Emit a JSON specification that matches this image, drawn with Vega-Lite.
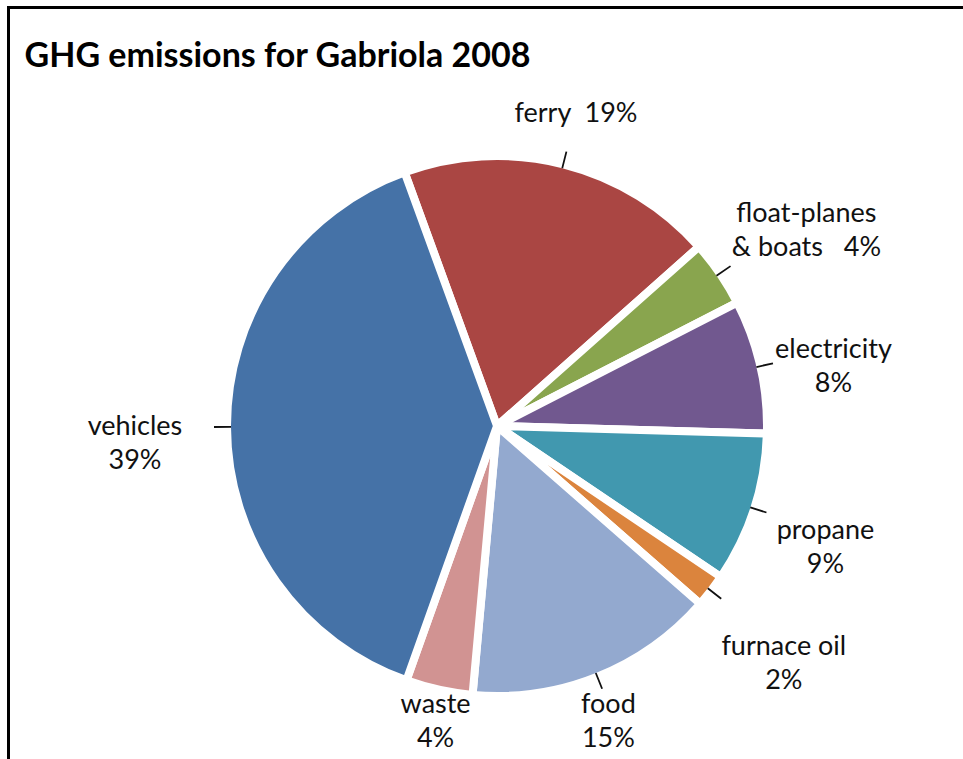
{
  "$schema": "https://vega.github.io/schema/vega-lite/v6.json",
  "width": 977,
  "height": 837,
  "autosize": {"type": "none"},
  "padding": {"left": 8.5, "top": 7.5, "right": -22.5, "bottom": -85.5},
  "background": "white",
  "view": {"stroke": "#000000", "strokeWidth": 3, "fill": "white"},
  "title": {
    "text": "GHG emissions for Gabriola 2008",
    "anchor": "start",
    "orient": "top",
    "frame": "group",
    "font": "Lato",
    "fontSize": 34,
    "fontWeight": "bold",
    "color": "#000000",
    "baseline": "alphabetic",
    "offset": -59.5,
    "dx": 16,
    "dy": 34
  },
  "data": {
    "values": [
      {"rank": 1, "category": "ferry", "pct": 19, "label": "ferry\u00a0\u00a019%"},
      {"rank": 2, "category": "float-planes & boats", "pct": 4, "label": "float-planes\n& boats\u00a0\u00a0\u00a04%"},
      {"rank": 3, "category": "electricity", "pct": 8, "label": "electricity\n8%"},
      {"rank": 4, "category": "propane", "pct": 9, "label": "propane\n9%"},
      {"rank": 5, "category": "furnace oil", "pct": 2, "label": "furnace oil\n2%"},
      {"rank": 6, "category": "food", "pct": 15, "label": "food\n15%"},
      {"rank": 7, "category": "waste", "pct": 4, "label": "waste\n4%"},
      {"rank": 8, "category": "vehicles", "pct": 39, "label": "vehicles\n39%"}
    ]
  },
  "encoding": {
    "theta": {"field": "pct", "type": "quantitative", "stack": true, "scale": {"range": [-0.349, 5.934]}},
    "order": {"field": "rank", "type": "quantitative"}
  },
  "layer": [
    {
      "mark": {"type": "arc", "outerRadius": 270, "stroke": "#ffffff", "strokeWidth": 8},
      "encoding": {
        "color": {
          "field": "category",
          "type": "nominal",
          "legend": null,
          "scale": {
            "domain": ["ferry", "float-planes & boats", "electricity", "propane", "furnace oil", "food", "waste", "vehicles"],
            "range": ["#AA4643", "#89A54E", "#71588F", "#4198AF", "#DB843D", "#93A9CF", "#D19392", "#4572A7"]
          }
        }
      }
    },
    {
      "mark": {"type": "arc", "filled": false, "color": "#111111", "stroke": "#111111", "strokeWidth": 1.8, "padAngle": 3, "innerRadius": 266, "outerRadius": 283},
      "encoding": {
        "strokeOpacity": {"condition": {"test": "datum.category === 'waste'", "value": 0}, "value": 1}
      }
    },
    {
      "mark": {"type": "text", "radius": 345, "font": "Lato", "fontSize": 27, "lineHeight": 34, "lineBreak": "\n", "align": "center", "baseline": "middle", "color": "#111111"},
      "encoding": {
        "text": {"field": "label", "type": "nominal", "condition": {"test": "indexof(['propane','electricity'], datum.category) < 0", "value": ""}}
      }
    },
    {
      "mark": {"type": "text", "radius": 362, "font": "Lato", "fontSize": 27, "lineHeight": 34, "lineBreak": "\n", "align": "center", "baseline": "middle", "color": "#111111"},
      "encoding": {
        "text": {"field": "label", "type": "nominal", "condition": {"test": "indexof(['vehicles','furnace oil'], datum.category) < 0", "value": ""}}
      }
    },
    {
      "mark": {"type": "text", "radius": 375, "font": "Lato", "fontSize": 27, "lineHeight": 34, "lineBreak": "\n", "align": "center", "baseline": "middle", "color": "#111111"},
      "encoding": {
        "text": {"field": "label", "type": "nominal", "condition": {"test": "datum.category !== 'float-planes & boats'", "value": ""}}
      }
    },
    {
      "mark": {"type": "text", "radius": 322, "font": "Lato", "fontSize": 27, "lineHeight": 34, "lineBreak": "\n", "align": "center", "baseline": "middle", "color": "#111111"},
      "encoding": {
        "text": {"field": "label", "type": "nominal", "condition": {"test": "datum.category !== 'ferry'", "value": ""}}
      }
    },
    {
      "mark": {"type": "text", "radius": 300, "font": "Lato", "fontSize": 27, "lineHeight": 34, "lineBreak": "\n", "align": "center", "baseline": "middle", "color": "#111111"},
      "encoding": {
        "text": {"field": "label", "type": "nominal", "condition": {"test": "datum.category !== 'food'", "value": ""}}
      }
    },
    {
      "mark": {"type": "text", "radius": 286, "font": "Lato", "fontSize": 27, "lineHeight": 34, "lineBreak": "\n", "align": "center", "baseline": "middle", "color": "#111111"},
      "encoding": {
        "text": {"field": "label", "type": "nominal", "condition": {"test": "datum.category !== 'waste'", "value": ""}}
      }
    }
  ]
}
